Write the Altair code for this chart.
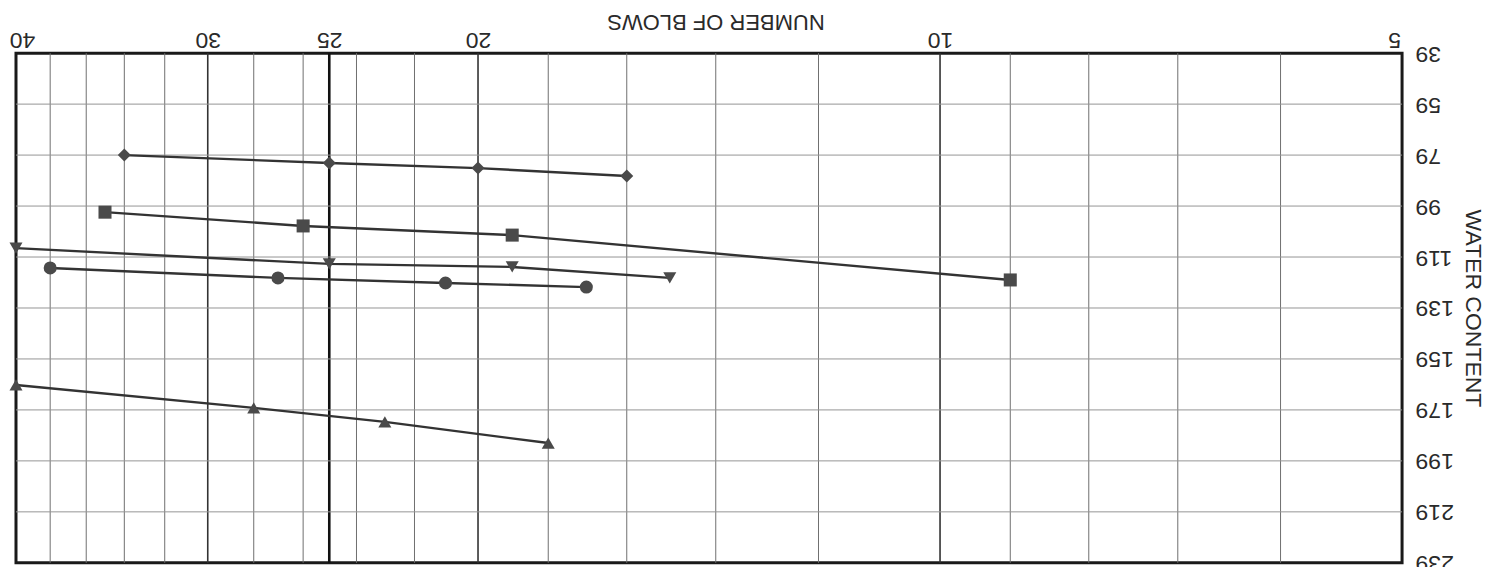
import altair as alt
import pandas as pd

# --- data read from the (upside-down) scanned chart ---
blows_diamond = [34, 25, 20, 16]
wc_diamond = [79.0, 82.1, 84.1, 87.2]

blows_square = [35, 26, 19, 9]
wc_square = [101.4, 106.8, 110.4, 128.0]

blows_tridown = [40, 25, 19, 15]
wc_tridown = [115.5, 121.7, 122.9, 127.2]

blows_circle = [38, 27, 21, 17]
wc_circle = [123.3, 127.2, 129.2, 130.8]

blows_triup = [40, 28, 23, 18]
wc_triup = [169.2, 178.2, 183.7, 192.0]

x_tick_values = [5, 10, 20, 25, 30, 40]
y_tick_values = [39, 59, 79, 99, 119, 139, 159, 179, 199, 219, 239]
x_grid_minor = [6, 7, 8, 9, 12, 14, 16, 18, 22, 24, 26, 28, 32, 34, 36, 38]
x_grid_major = [10, 20, 30]
x_grid_heavy = [25]
y_grid = [59, 79, 99, 119, 139, 159, 179, 199, 219]

series = [
    ("diamond", blows_diamond, wc_diamond, "diamond"),
    ("square", blows_square, wc_square, "square"),
    ("tridown", blows_tridown, wc_tridown, "triangle-down"),
    ("circle", blows_circle, wc_circle, "circle"),
    ("triup", blows_triup, wc_triup, "triangle-up"),
]

rows = []
for name, xs, ys, shape in series:
    for i, (xv, yv) in enumerate(zip(xs, ys)):
        rows.append({"series": name, "blows": xv, "wc": yv, "shape": shape, "order": i})
df = pd.DataFrame(rows)

FONT = "Liberation Sans"
INK = "#2a2a2a"

xscale = alt.Scale(type="log", domain=[5, 40], reverse=True, nice=False)
yscale = alt.Scale(domain=[39, 239], reverse=True, nice=False, zero=False)

x_axis = alt.Axis(
    orient="top", values=x_tick_values, format="d", grid=False, ticks=False, domain=False,
    labelAngle=180, labelBaseline="top", labelAlign="center", labelPadding=3,
    labelOffset=alt.ExprRef("datum.value == 40 ? 6 : (datum.value == 5 ? -8 : 0)"),
    labelFontSize=23, labelFont=FONT, labelColor=INK, labelFlush=False, labelOverlap=False,
    title="NUMBER OF BLOWS", titleAngle=180, titleFont=FONT, titleFontSize=22,
    titleFontWeight="normal", titleColor=INK, titleBaseline="middle", titleAlign="center",
    titleX=700, titleY=-32,
)
y_axis = alt.Axis(
    orient="right", values=y_tick_values, format="d", grid=False, ticks=False, domain=False,
    labelAngle=180, labelBaseline="middle", labelAlign="right", labelPadding=13,
    labelFontSize=23, labelFont=FONT, labelColor=INK, labelFlush=False, labelOverlap=False,
    title="WATER CONTENT", titleAngle=90, titleFont=FONT, titleFontSize=23,
    titleFontWeight="normal", titleColor=INK, titleBaseline="middle", titleAlign="center",
    titleX=70, titleY=255,
)

base = alt.Chart(df)

xg_minor = alt.Chart(pd.DataFrame({"blows": x_grid_minor})).mark_rule(
    color="#6f6f6f", strokeWidth=1
).encode(x=alt.X("blows:Q", scale=xscale, axis=x_axis))
xg_major = alt.Chart(pd.DataFrame({"blows": x_grid_major})).mark_rule(
    color="#333333", strokeWidth=1.6
).encode(x=alt.X("blows:Q", scale=xscale, axis=x_axis))
xg_heavy = alt.Chart(pd.DataFrame({"blows": x_grid_heavy})).mark_rule(
    color="#111111", strokeWidth=2.6
).encode(x=alt.X("blows:Q", scale=xscale, axis=x_axis))
yg = alt.Chart(pd.DataFrame({"wc": y_grid})).mark_rule(
    color="#959595", strokeWidth=1
).encode(y=alt.Y("wc:Q", scale=yscale, axis=y_axis))

lines = base.mark_line(color="#333333", strokeWidth=2.4).encode(
    x=alt.X("blows:Q", scale=xscale, axis=x_axis),
    y=alt.Y("wc:Q", scale=yscale, axis=y_axis),
    detail="series:N",
    order="order:Q",
)
points = base.mark_point(filled=True, color="#4a4a4a", size=170, opacity=1).encode(
    x=alt.X("blows:Q", scale=xscale, axis=x_axis),
    y=alt.Y("wc:Q", scale=yscale, axis=y_axis),
    shape=alt.Shape("shape:N", scale=None, legend=None),
)

chart = alt.layer(xg_minor, xg_major, xg_heavy, yg, lines, points).properties(
    width=1387, height=510,
    autosize=alt.AutoSizeParams(type="none"),
    padding={"left": 8, "top": 45, "right": 90, "bottom": 4},
    background="white",
).configure_view(stroke="#1a1a1a", strokeWidth=3)

chart.save("out.html", embed_options={"renderer": "svg", "actions": False})
